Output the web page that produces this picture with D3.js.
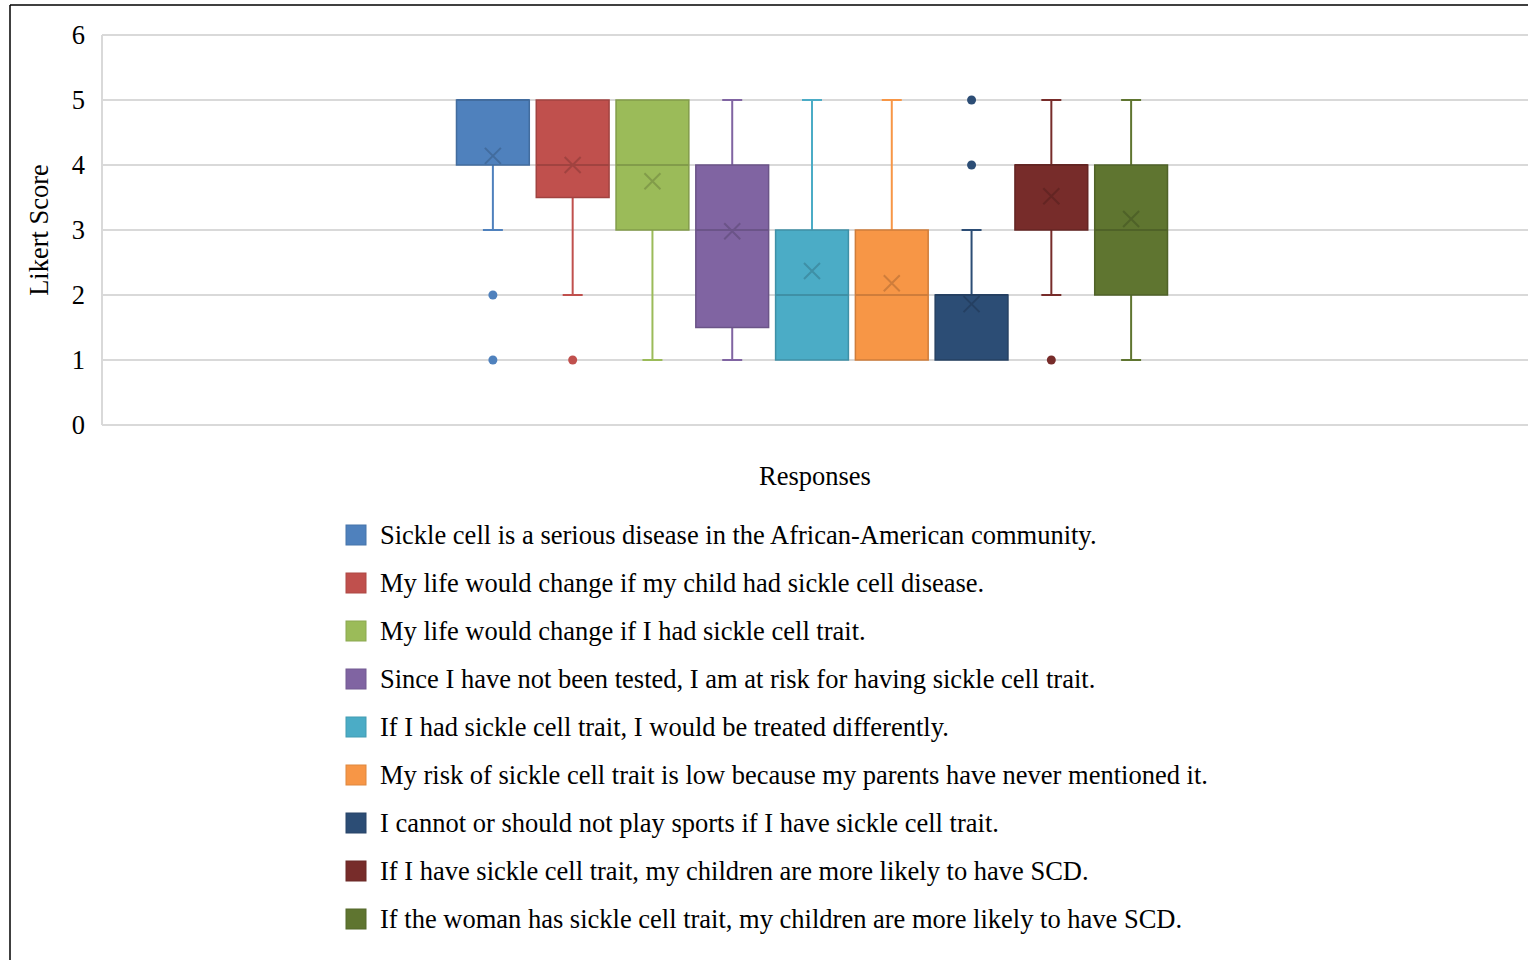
<!DOCTYPE html>
<html><head><meta charset="utf-8">
<script src="https://cdn.jsdelivr.net/npm/d3@7"></script>
<style>body{margin:0;background:#fff;} svg{display:block;}</style>
</head><body>
<svg id="chart" width="1528" height="960"></svg>
<script>
const categories = [
  "Sickle cell is a serious disease in the African-American community.",
  "My life would change if my child had sickle cell disease.",
  "My life would change if I had sickle cell trait.",
  "Since I have not been tested, I am at risk for having sickle cell trait.",
  "If I had sickle cell trait, I would be treated differently.",
  "My risk of sickle cell trait is low because my parents have never mentioned it.",
  "I cannot or should not play sports if I have sickle cell trait.",
  "If I have sickle cell trait, my children are more likely to have SCD.",
  "If the woman has sickle cell trait, my children are more likely to have SCD."
];
const whiskerLow  = [3, 2, 1, 1, 1, 1, 1, 2, 1];
const q1          = [4, 3.5, 3, 1.5, 1, 1, 1, 3, 2];
const median      = [5, 4, 4, 3, 2, 2, 2, 4, 3];
const q3          = [5, 5, 5, 4, 3, 3, 2, 4, 4];
const whiskerHigh = [5, 5, 5, 5, 5, 5, 3, 5, 5];
const mean        = [4.14, 4.0, 3.75, 2.98, 2.37, 2.18, 1.86, 3.52, 3.17];
const outliers    = [[2, 1], [1], [], [], [], [], [4, 5], [1], []];
const colors      = ["#4F81BD", "#C0504D", "#9BBB59", "#8064A2", "#4BACC6", "#F79646", "#2C4D75", "#772C2A", "#5F7530"];
const yTicks      = [0, 1, 2, 3, 4, 5, 6];

const svg = d3.select("#chart");
const font = "'Liberation Serif', 'Times New Roman', serif";
const fs = 26.5;

// frame
svg.append("line").attr("x1", 10).attr("x2", 1528).attr("y1", 5).attr("y2", 5).attr("stroke", "#000").attr("stroke-width", 1.5);
svg.append("line").attr("x1", 10).attr("x2", 10).attr("y1", 5).attr("y2", 960).attr("stroke", "#000").attr("stroke-width", 1.5);

const plotL = 102, plotR = 1528, plotT = 35, plotB = 425;
const y = d3.scaleLinear().domain([0, 6]).range([plotB, plotT]);
const x = d3.scaleBand().domain(categories).range([453, 1171]).paddingInner(0.0875).paddingOuter(0.04375);

// gridlines
svg.append("g").selectAll("line").data(yTicks).join("line")
  .attr("x1", plotL).attr("x2", plotR)
  .attr("y1", d => y(d)).attr("y2", d => y(d))
  .attr("stroke", "#d9d9d9").attr("stroke-width", 2);
svg.append("line").attr("x1", plotL).attr("x2", plotL).attr("y1", plotT).attr("y2", plotB)
  .attr("stroke", "#d9d9d9").attr("stroke-width", 2);

// y axis labels
const yAxis = d3.axisLeft(y).tickValues(yTicks).tickSize(0).tickPadding(0).tickFormat(d3.format("d"));
const ga = svg.append("g").attr("transform", `translate(85,0)`).call(yAxis);
ga.select(".domain").remove();
ga.selectAll("text").attr("font-family", font).attr("font-size", fs).attr("fill", "#000").attr("dy", "0.32em");

svg.append("text").attr("transform", `translate(48,230) rotate(-90)`)
  .attr("text-anchor", "middle").attr("font-family", font).attr("font-size", fs).text("Likert Score");

svg.append("text").attr("x", 815).attr("y", 485).attr("text-anchor", "middle")
  .attr("font-family", font).attr("font-size", fs).text("Responses");

// boxes
const capW = 20;
categories.forEach((c, i) => {
  const g = svg.append("g");
  const cx = x(c) + x.bandwidth() / 2;
  const col = colors[i];
  const dark = d3.color(col).darker(0.5).formatHex();
  const w = x.bandwidth();
  if (whiskerHigh[i] > q3[i]) {
    g.append("line").attr("x1", cx).attr("x2", cx).attr("y1", y(q3[i])).attr("y2", y(whiskerHigh[i])).attr("stroke", col).attr("stroke-width", 2);
    g.append("line").attr("x1", cx - capW / 2).attr("x2", cx + capW / 2).attr("y1", y(whiskerHigh[i])).attr("y2", y(whiskerHigh[i])).attr("stroke", col).attr("stroke-width", 2);
  }
  if (whiskerLow[i] < q1[i]) {
    g.append("line").attr("x1", cx).attr("x2", cx).attr("y1", y(q1[i])).attr("y2", y(whiskerLow[i])).attr("stroke", col).attr("stroke-width", 2);
    g.append("line").attr("x1", cx - capW / 2).attr("x2", cx + capW / 2).attr("y1", y(whiskerLow[i])).attr("y2", y(whiskerLow[i])).attr("stroke", col).attr("stroke-width", 2);
  }
  g.append("rect").attr("x", x(c)).attr("width", w)
    .attr("y", y(q3[i])).attr("height", y(q1[i]) - y(q3[i]))
    .attr("fill", col).attr("stroke", dark).attr("stroke-width", 1.5);
  g.append("line").attr("x1", x(c)).attr("x2", x(c) + w).attr("y1", y(median[i])).attr("y2", y(median[i]))
    .attr("stroke", dark).attr("stroke-width", 2);
  const my = y(mean[i]), s = 8;
  g.append("path").attr("d", `M${cx - s},${my - s}L${cx + s},${my + s}M${cx - s},${my + s}L${cx + s},${my - s}`)
    .attr("stroke", dark).attr("stroke-width", 2).attr("fill", "none");
  g.selectAll("circle").data(outliers[i]).join("circle")
    .attr("cx", cx).attr("cy", d => y(d)).attr("r", 4.5).attr("fill", col);
});

// legend
const lg = svg.append("g");
categories.forEach((c, i) => {
  const ly = 535 + i * 48;
  lg.append("rect").attr("x", 346).attr("y", ly - 10).attr("width", 20).attr("height", 20)
    .attr("fill", colors[i]).attr("stroke", d3.color(colors[i]).darker(0.3).formatHex()).attr("stroke-width", 1);
  lg.append("text").attr("x", 380).attr("y", ly).attr("dy", "0.35em")
    .attr("font-family", font).attr("font-size", fs).text(c);
});
</script>
</body></html>
